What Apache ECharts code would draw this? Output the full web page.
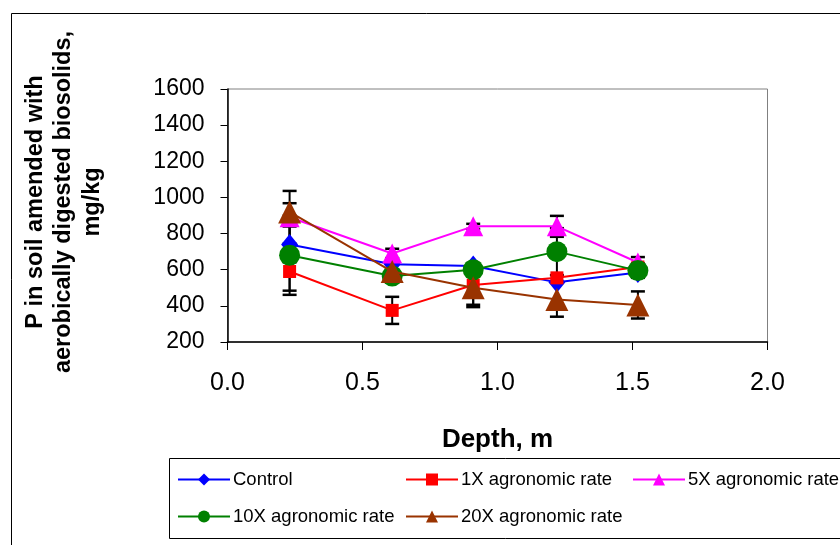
<!DOCTYPE html>
<html><head><meta charset="utf-8">
<script src="https://cdn.jsdelivr.net/npm/echarts@6/dist/echarts.min.js"></script>
<style>html,body{margin:0;padding:0;background:#fff}#c{width:840px;height:545px}</style>
</head><body><div id="c"></div>
<script>
const depths = [0.23, 0.61, 0.91, 1.22, 1.52];
const seriesNames = ['Control', '1X agronomic rate', '5X agronomic rate', '10X agronomic rate', '20X agronomic rate'];
const control = [740, 630, 620, 530, 585];
const rate1X = [590, 375, 515, 555, 615];
const rate5X = [890, 690, 840, 840, 640];
const rate10X = [680, 565, 600, 700, 595];
const rate20X = [920, 590, 500, 435, 405];
const controlErr = [99, 0, 0, 0, 0];
const rate1XErr = [106, 75, 122, 0, 0];
const rate5XErr = [146, 26, 14, 58, 30];
const rate10XErr = [219, 30, 0, 130, 40];
const rate20XErr = [48, 0, 94, 95, 75];
const xTicks = { min: 0, max: 2, step: 0.5 };
const yTicks = { min: 200, max: 1600, step: 200 };

const values = [control, rate1X, rate5X, rate10X, rate20X];
const errs = [controlErr, rate1XErr, rate5XErr, rate10XErr, rate20XErr];
const colors = ['#0000FF', '#FF0000', '#FF00FF', '#008000', '#993300'];
const symbols = ['diamond', 'rect', 'triangle', 'circle', 'triangle'];
const sizes = [[17, 21], 13, 20, 21, 23];

const chart = echarts.init(document.getElementById('c'));

function renderErr(params, api) {
  const x = api.value(0), lo = api.value(1), hi = api.value(2);
  const a = api.coord([x, lo]), b = api.coord([x, hi]);
  const hw = 7;
  const st = { stroke: '#000', lineWidth: 2 };
  const cs = { stroke: '#000', lineWidth: 2.5 };
  return { type: 'group', children: [
    { type: 'line', shape: { x1: a[0], y1: a[1], x2: b[0], y2: b[1] }, style: st },
    { type: 'line', shape: { x1: a[0] - hw, y1: a[1], x2: a[0] + hw, y2: a[1] }, style: cs },
    { type: 'line', shape: { x1: b[0] - hw, y1: b[1], x2: b[0] + hw, y2: b[1] }, style: cs }
  ]};
}

const series = [];
values.forEach((vals, i) => {
  const ed = [];
  vals.forEach((v, j) => { if (errs[i][j] > 0) ed.push([depths[j], v - errs[i][j], v + errs[i][j]]); });
  series.push({
    type: 'custom', renderItem: renderErr, data: ed, z: 1, silent: true,
    encode: { x: 0, y: [1, 2] }, clip: false
  });
});
values.forEach((vals, i) => {
  series.push({
    name: seriesNames[i], type: 'line', z: 2 + i,
    data: vals.map((v, j) => [depths[j], v]),
    symbol: symbols[i], symbolSize: sizes[i], showAllSymbol: true,
    itemStyle: { color: colors[i] },
    lineStyle: { color: colors[i], width: 2 },
    emphasis: { disabled: true }, animation: false
  });
});

const legendPos = [[177, 470], [405, 470], [632, 470], [177, 507], [405, 507]];
const legends = seriesNames.map((n, i) => ({
  data: [n], left: legendPos[i][0], top: legendPos[i][1], padding: 0,
  itemWidth: 52, itemHeight: 15, itemGap: 0, selectedMode: false,
  textStyle: { fontFamily: 'Liberation Sans Narrow, Arial Narrow, Liberation Sans', fontSize: 18.5, color: '#000', padding: [0, 0, 0, -2] }
}));

chart.setOption({
  animation: false,
  backgroundColor: '#fff',
  grid: { left: 227.5, top: 89, right: 72.5, bottom: 203, show: true, borderColor: '#808080', borderWidth: 1 },
  xAxis: {
    type: 'value', min: xTicks.min, max: xTicks.max, interval: xTicks.step,
    name: 'Depth, m', nameLocation: 'middle', nameGap: 85,
    nameTextStyle: { fontFamily: 'Liberation Sans Narrow, Liberation Sans', fontWeight: 'bold', fontSize: 26, color: '#000' },
    axisLine: { show: true, lineStyle: { color: '#000', width: 1.5 } },
    axisTick: { show: true, length: 8, lineStyle: { color: '#000' } },
    axisLabel: { margin: 29, fontFamily: 'Liberation Sans', fontSize: 25, color: '#000', formatter: v => v.toFixed(1) },
    splitLine: { show: false }
  },
  yAxis: {
    type: 'value', min: yTicks.min, max: yTicks.max, interval: yTicks.step,
    axisLine: { show: true, lineStyle: { color: '#000', width: 1.5 } },
    axisTick: { show: true, length: 7, lineStyle: { color: '#000' } },
    axisLabel: { margin: 23, fontFamily: 'Liberation Sans', fontSize: 23, color: '#000', formatter: v => String(v) },
    splitLine: { show: false }
  },
  legend: legends,
  graphic: [
    { type: 'rect', shape: { x: 11.5, y: 13.5, width: 840, height: 545 }, style: { fill: 'none', stroke: '#000', lineWidth: 1 }, z: -10, silent: true },
    { type: 'rect', shape: { x: 169.5, y: 458.5, width: 680, height: 80 }, style: { fill: 'none', stroke: '#000', lineWidth: 1 }, z: -10, silent: true },
    { type: 'text', x: 64, y: 202, rotation: Math.PI / 2, silent: true,
      style: { text: 'P in soil amended with\naerobically digested biosolids,\nmg/kg', textAlign: 'center', textVerticalAlign: 'middle',
        font: 'bold 23.5px "Liberation Sans", Arial, sans-serif', lineHeight: 28.5, fill: '#000' } }
  ],
  series: series
});
</script></body></html>
